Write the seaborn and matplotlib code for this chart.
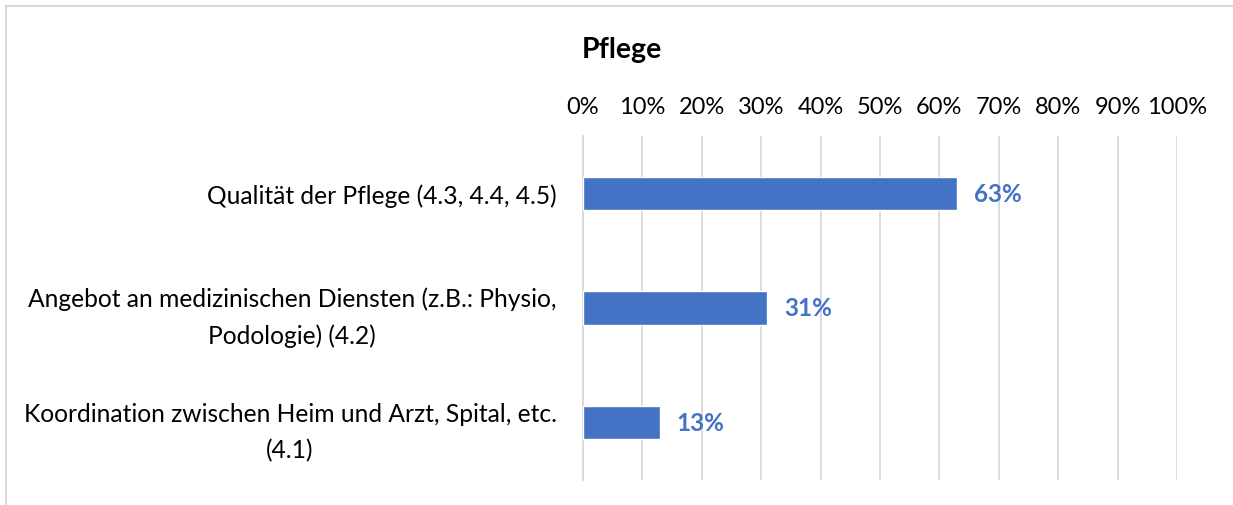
import matplotlib.pyplot as plt
import matplotlib.patches as mpatches
import numpy as np
import pandas as pd
import seaborn as sns

# Data
categories = [
    "Qualität der Pflege (4.3, 4.4, 4.5)",
    "Angebot an medizinischen Diensten (z.B.: Physio,\nPodologie) (4.2)",
    "Koordination zwischen Heim und Arzt, Spital, etc.\n(4.1)",
]
values = [0.63, 0.31, 0.13]
tick_values = [0, 0.1, 0.2, 0.3, 0.4, 0.5, 0.6, 0.7, 0.8, 0.9, 1.0]

df = pd.DataFrame({"Kategorie": categories, "Anteil": values})

sns.set_theme(style="white")
plt.rcParams["font.family"] = ["Lato", "DejaVu Sans"]

bar_color = "#4472C4"
grid_color = "#D9D9D9"

fig = plt.figure(figsize=(12.33, 5.06), dpi=100)
ax = fig.add_axes([583 / 1233, 1 - 481 / 506, (1177 - 583) / 1233, (481 - 137) / 506])

sns.barplot(data=df, x="Anteil", y="Kategorie", color=bar_color, width=0.29,
            saturation=1, ax=ax, zorder=3)

ax.set_xlim(0, 1)
ax.set_ylim(2.5, -0.5)
ax.set_xticks(tick_values)
ax.set_xticklabels([f"{int(round(t * 100))}%" for t in tick_values], fontsize=17, color="#000000")
ax.xaxis.tick_top()
ax.tick_params(axis="x", length=0, pad=14)
ax.grid(axis="x", color=grid_color, linewidth=1.3, zorder=0)
ax.set_xlabel("")
ax.set_ylabel("")

# category labels: right-aligned block, lines centred like the original
ax.set_yticks(range(len(categories)))
ax.set_yticklabels(categories, fontsize=17.7, color="#000000", ha="right",
                   multialignment="center", linespacing=1.7)
ax.tick_params(axis="y", length=0, pad=19)

# boundary ticks on the left spine
ax.set_yticks([-0.5, 0.5, 1.5, 2.5], minor=True)
ax.tick_params(axis="y", which="minor", length=8, width=1.3, color=grid_color, direction="out")

for side in ["top", "right", "bottom"]:
    ax.spines[side].set_visible(False)
ax.spines["left"].set_color(grid_color)
ax.spines["left"].set_linewidth(1.3)

for i, v in enumerate(values):
    ax.text(v + 0.028, i, f"{int(round(v * 100))}%", va="center", ha="left",
            fontsize=17.5, fontweight="bold", color=bar_color)

fig.text(622 / 1233, 1 - 50 / 506, "Pflege", ha="center", va="center",
         fontsize=20.5, fontweight="bold", color="#000000")

# light frame around the chart area
fig.patches.append(mpatches.Rectangle((6 / 1233, -0.05), 1.1, 1 - 7 / 506 + 0.05,
                                      transform=fig.transFigure, fill=False,
                                      edgecolor=grid_color, linewidth=1.5))

fig.savefig("out.png", dpi=100)
